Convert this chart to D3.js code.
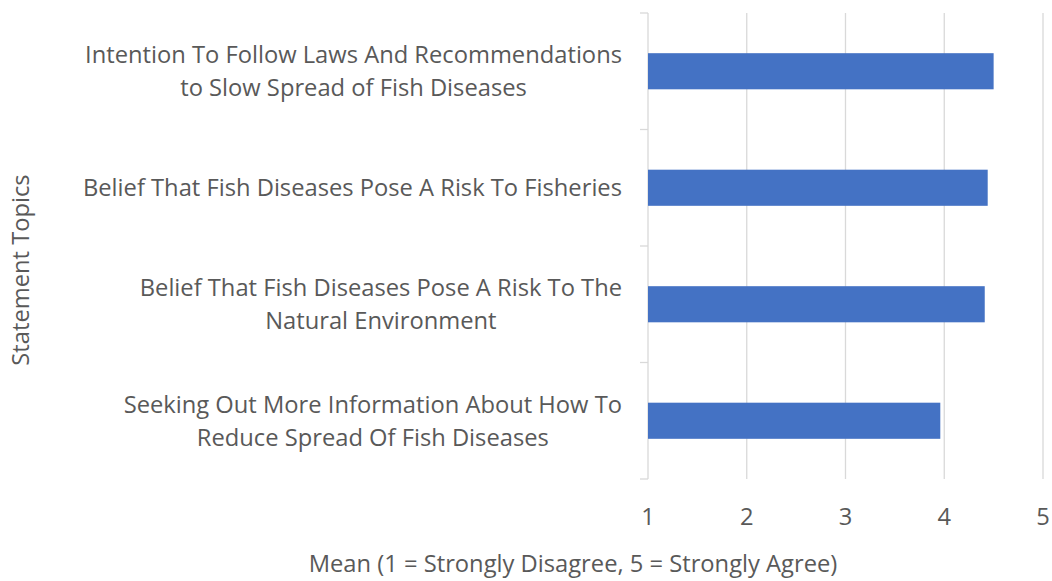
<!DOCTYPE html>
<html><head><meta charset="utf-8">
<script src="https://cdn.jsdelivr.net/npm/d3@7"></script>
<style>body{margin:0;background:#fff;} text{font-family:"Open Sans", sans-serif;fill:#595959;}</style>
</head><body>
<svg id="chart" width="1052" height="581"></svg>
<script>
const categories = [
  ["Intention To Follow Laws And Recommendations", "to Slow Spread of Fish Diseases"],
  ["Belief That Fish Diseases Pose A Risk To Fisheries"],
  ["Belief That Fish Diseases Pose A Risk To The", "Natural Environment"],
  ["Seeking Out More Information About How To", "Reduce Spread Of Fish Diseases"]
];
const values = [4.50, 4.44, 4.41, 3.96];
const xTicks = [1, 2, 3, 4, 5];
const xTitle = "Mean (1 = Strongly Disagree, 5 = Strongly Agree)";
const yTitle = "Statement Topics";

const svg = d3.select("#chart");
const m = {left: 648, right: 9, top: 13, bottom: 102};
const W = 1052, H = 581;
const x = d3.scaleLinear().domain([1, 5]).range([m.left, W - m.right]);
const y = d3.scaleBand().domain(d3.range(categories.length)).range([m.top, H - m.bottom]).paddingInner(0.69).paddingOuter(0.345);
const grid = "#d9d9d9";

svg.append("g").selectAll("line").data(xTicks.slice(1)).join("line")
  .attr("x1", d => x(d)).attr("x2", d => x(d))
  .attr("y1", m.top).attr("y2", H - m.bottom)
  .attr("stroke", grid).attr("stroke-width", 1.3);

const step = (H - m.bottom - m.top) / categories.length;
svg.append("line").attr("x1", x(1)).attr("x2", x(1)).attr("y1", m.top).attr("y2", H - m.bottom)
  .attr("stroke", grid).attr("stroke-width", 1.3);
svg.append("g").selectAll("line").data(d3.range(categories.length + 1)).join("line")
  .attr("x1", x(1) - 8).attr("x2", x(1))
  .attr("y1", i => m.top + i * step).attr("y2", i => m.top + i * step)
  .attr("stroke", grid).attr("stroke-width", 1.3);

svg.append("g").selectAll("rect").data(values).join("rect")
  .attr("x", x(1)).attr("y", (d, i) => y(i))
  .attr("width", d => x(d) - x(1)).attr("height", y.bandwidth())
  .attr("fill", "#4472c4");

// fit label font size so the longest line spans like the reference
const targetW = 537;
const probe = svg.append("text").attr("font-size", 20).text(categories[0][0]);
const fs = 20 * targetW / probe.node().getComputedTextLength();
probe.remove();

svg.append("g").selectAll("text").data(xTicks).join("text")
  .attr("x", d => x(d)).attr("y", 525).attr("text-anchor", "middle")
  .attr("font-size", fs).text(d => d);

const lh = 33, rightEdge = 622;
categories.forEach((lines, i) => {
  const cy = y(i) + y.bandwidth() / 2;
  const g = svg.append("g");
  const ts = lines.map((l, j) => g.append("text").attr("font-size", fs)
    .attr("text-anchor", "middle")
    .attr("y", cy + (j - (lines.length - 1) / 2) * lh + fs * 0.36).text(l));
  const maxW = d3.max(ts, t => t.node().getComputedTextLength());
  ts.forEach(t => t.attr("x", rightEdge - maxW / 2));
});

svg.append("text").attr("x", 573).attr("y", 572).attr("text-anchor", "middle")
  .attr("font-size", fs).text(xTitle);
svg.append("text").attr("transform", "translate(29,270) rotate(-90)").attr("text-anchor", "middle")
  .attr("font-size", fs).text(yTitle);
</script>
</body></html>
